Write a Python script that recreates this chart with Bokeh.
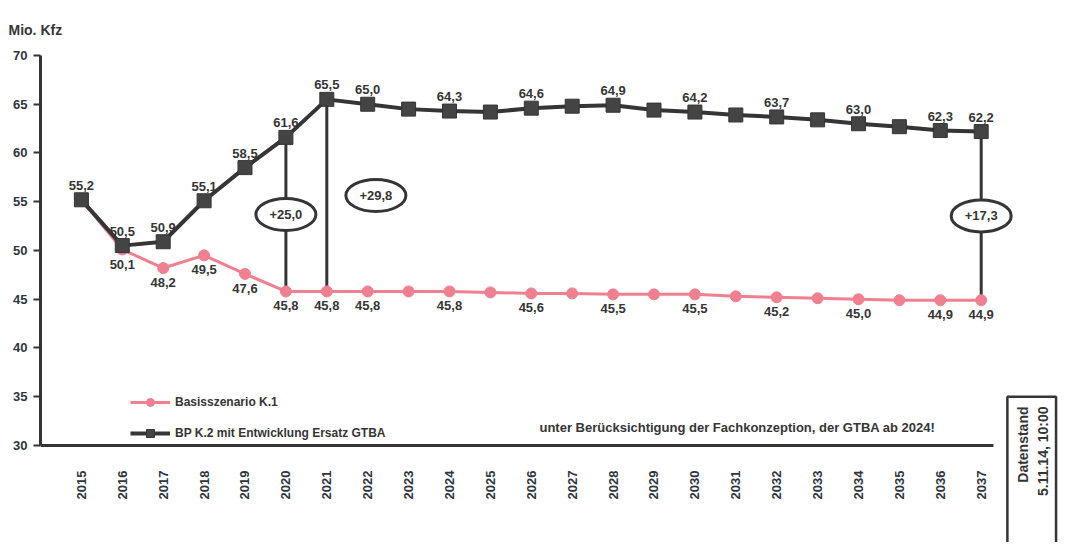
from math import pi
from bokeh.plotting import figure
from bokeh.models import (ColumnDataSource, LabelSet, Label, Legend, LegendItem,
                          FixedTicker, Range1d, Title)
from bokeh.core.properties import value
from bokeh.embed import file_html
from bokeh.resources import INLINE

years = [2015, 2016, 2017, 2018, 2019, 2020, 2021, 2022, 2023, 2024, 2025, 2026,
         2027, 2028, 2029, 2030, 2031, 2032, 2033, 2034, 2035, 2036, 2037]
bp_k2 = [55.2, 50.5, 50.9, 55.1, 58.5, 61.6, 65.5, 65.0, 64.5, 64.3, 64.2, 64.6,
         64.8, 64.9, 64.4, 64.2, 63.9, 63.7, 63.4, 63.0, 62.7, 62.3, 62.2]
basis_k1 = [55.2, 50.1, 48.2, 49.5, 47.6, 45.8, 45.8, 45.8, 45.8, 45.8, 45.7, 45.6,
            45.6, 45.5, 45.5, 45.5, 45.3, 45.2, 45.1, 45.0, 44.9, 44.9, 44.9]
bp_label_years = [2015, 2016, 2017, 2018, 2019, 2020, 2021, 2022, 2024, 2026, 2028,
                  2030, 2032, 2034, 2036, 2037]
basis_label_years = [2016, 2017, 2018, 2019, 2020, 2021, 2022, 2024, 2026, 2028, 2030,
                     2032, 2034, 2036, 2037]
diff_years = [2020, 2021, 2037]
diff_texts = ["+25,0", "+29,8", "+17,3"]
diff_shift = [0.0, 1.2, 0.0]

name_basis = "Basisszenario K.1"
name_bp = "BP K.2 mit Entwicklung Ersatz GTBA"
note_text = "unter Berücksichtigung der Fachkonzeption, der GTBA ab 2024!"
y_title = "Mio. Kfz"
stand_lines = ["Datenstand", "5.11.14, 10:00"]

FONT = "Liberation Sans"
DARK = "#353535"
PINK = "#f07f90"

def de(v):
    return f"{v:.1f}".replace(".", ",")

p = figure(width=1058, height=542, output_backend="svg", toolbar_location=None,
           x_range=Range1d(2014, 2038.89), y_range=Range1d(20.05, 70),
           min_border_left=40, min_border_right=0, min_border_top=55,
           min_border_bottom=0, title=None)
p.outline_line_color = None
p.xgrid.visible = False
p.ygrid.visible = False

p.add_layout(Title(text=y_title, align="left", offset=-32, standoff=36,
                   text_font=FONT, text_font_style="bold", text_font_size="14px",
                   text_color=DARK), "above")

# connectors
idx = {y: i for i, y in enumerate(years)}
seg = ColumnDataSource(dict(
    x=diff_years,
    y0=[bp_k2[idx[y]] for y in diff_years],
    y1=[basis_k1[idx[y]] for y in diff_years]))
p.segment(x0="x", x1="x", y0="y0", y1="y1", source=seg, line_color=DARK, line_width=3)

src = ColumnDataSource(dict(x=years, bp=bp_k2, basis=basis_k1))
pl = p.line("x", "basis", source=src, line_color=PINK, line_width=3)
ps = p.scatter("x", "basis", source=src, marker="circle", size=11,
               fill_color=PINK, line_color=PINK)
bl = p.line("x", "bp", source=src, line_color=DARK, line_width=4)
bs = p.scatter("x", "bp", source=src, marker="square", size=14,
               fill_color="#444444", line_color=DARK)

# ellipses with differences
ell = ColumnDataSource(dict(
    x=[y + s for y, s in zip(diff_years, diff_shift)],
    y=[(bp_k2[idx[y]] + basis_k1[idx[y]]) / 2 for y in diff_years],
    t=diff_texts))
p.ellipse(x="x", y="y", width=60, height=32, width_units="screen", height_units="screen",
          source=ell, fill_color="white", line_color=DARK, line_width=3)
p.text(x="x", y="y", text="t", source=ell, text_align="center", text_baseline="middle",
       text_font=value(FONT), text_font_style="bold", text_font_size="13px",
       text_color=DARK)

# data labels
bl_src = ColumnDataSource(dict(x=bp_label_years,
                               y=[bp_k2[idx[y]] for y in bp_label_years],
                               t=[de(bp_k2[idx[y]]) for y in bp_label_years]))
p.add_layout(LabelSet(x="x", y="y", text="t", source=bl_src, y_offset=10,
                      text_align="center", text_baseline="bottom",
                      text_font=value(FONT), text_font_style="bold",
                      text_font_size="13px", text_color=DARK))
pk_src = ColumnDataSource(dict(x=basis_label_years,
                               y=[basis_k1[idx[y]] for y in basis_label_years],
                               t=[de(basis_k1[idx[y]]) for y in basis_label_years]))
p.add_layout(LabelSet(x="x", y="y", text="t", source=pk_src, y_offset=-10,
                      text_align="center", text_baseline="top",
                      text_font=value(FONT), text_font_style="bold",
                      text_font_size="13px", text_color=DARK))

# axes
p.xaxis.fixed_location = 30
p.xaxis.ticker = FixedTicker(ticks=years)
p.xaxis.bounds = (2013.8, 2037.3)
p.yaxis.bounds = (30, 70)
p.xaxis.major_label_orientation = pi / 2
p.xaxis.major_label_standoff = 25
p.xaxis.major_tick_out = 0
p.xaxis.major_tick_in = 0
p.xaxis.minor_tick_out = 0
p.xaxis.minor_tick_in = 0
p.xaxis.axis_line_width = 3
p.xaxis.axis_line_color = DARK
p.yaxis.ticker = FixedTicker(ticks=[30, 35, 40, 45, 50, 55, 60, 65, 70])
p.yaxis.major_tick_out = 7
p.yaxis.major_tick_in = 0
p.yaxis.minor_tick_out = 0
p.yaxis.minor_tick_in = 0
p.yaxis.major_tick_line_width = 2
p.yaxis.axis_line_width = 3
p.yaxis.axis_line_color = DARK
p.yaxis.major_tick_line_color = DARK
for ax in (p.xaxis, p.yaxis):
    ax.major_label_text_font = FONT
    ax.major_label_text_font_style = "bold"
    ax.major_label_text_font_size = "13px"
    ax.major_label_text_color = "#2e3540"
p.yaxis.major_label_standoff = 6

legend = Legend(items=[LegendItem(label=name_basis, renderers=[pl, ps]),
                       LegendItem(label=name_bp, renderers=[bl, bs])],
                location=(90, 99), border_line_color=None, background_fill_alpha=0,
                label_text_font=FONT, label_text_font_style="bold",
                label_text_font_size="12px", label_text_color=DARK,
                glyph_width=40, glyph_height=20, label_height=20, spacing=11,
                padding=0, margin=0)
p.add_layout(legend)

p.add_layout(Label(x=2026.2, y=31.1, text=note_text, text_font=FONT,
                   text_font_style="bold", text_font_size="13px", text_color=DARK,
                   text_baseline="bottom"))

# "Datenstand" box at the lower right
p.quad(left=[2037.64], right=[2038.83], top=[35.0], bottom=[19.0],
       fill_color="white", line_color=DARK, line_width=2.5)
p.text(x=[2038.02, 2038.5], y=[34.0, 34.0], text=stand_lines, angle=pi / 2,
       text_align="right", text_baseline="middle", text_font=value(FONT),
       text_font_style="bold", text_font_size="14px", text_color=DARK)

open("out.html", "w").write(file_html(p, INLINE))
